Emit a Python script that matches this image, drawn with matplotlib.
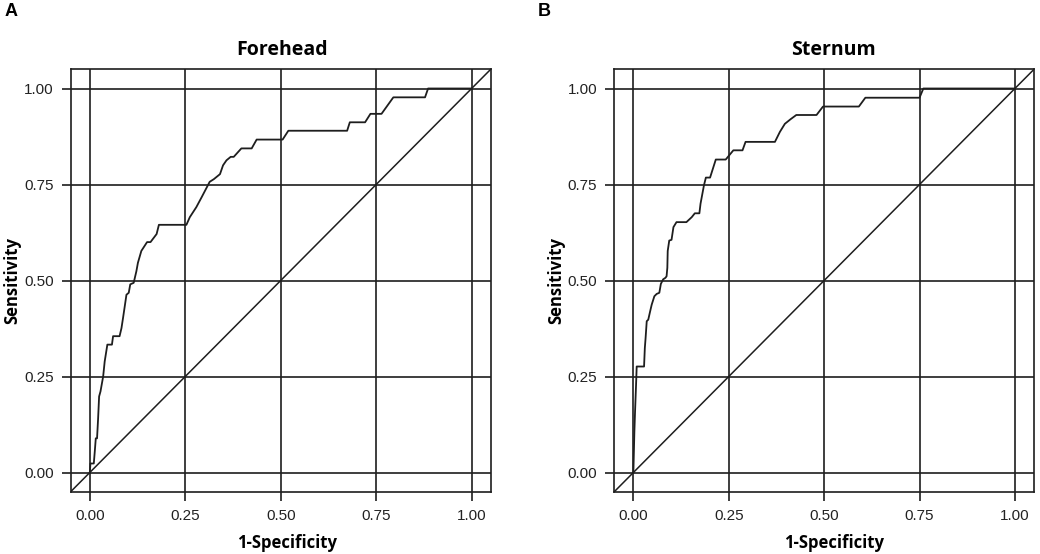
import matplotlib
matplotlib.use("Agg")
import matplotlib.pyplot as plt

# ---- data ----
ticks = [0.0, 0.25, 0.5, 0.75, 1.0]
tick_labels = ["0.00", "0.25", "0.50", "0.75", "1.00"]
panel_letters = ["A", "B"]
titles = ["Forehead", "Sternum"]
xlabel = "1-Specificity"
ylabel = "Sensitivity"

forehead_fpr = [0.0, 0.0017, 0.0105, 0.013, 0.0157, 0.019, 0.0218, 0.0244, 0.028, 0.035,
                0.039, 0.046, 0.058, 0.061, 0.078, 0.083, 0.087, 0.091, 0.096, 0.102,
                0.106, 0.115, 0.118, 0.122, 0.126, 0.135, 0.150, 0.159, 0.175, 0.181,
                0.253, 0.262, 0.279, 0.293, 0.314, 0.325, 0.341, 0.349, 0.358, 0.369,
                0.377, 0.397, 0.424, 0.437, 0.505, 0.520, 0.674, 0.681, 0.721, 0.735,
                0.764, 0.795, 0.878, 0.886, 1.0]
forehead_tpr = [0.0, 0.0235, 0.0235, 0.054, 0.089, 0.089, 0.141, 0.198, 0.211, 0.250,
                0.289, 0.333, 0.333, 0.355, 0.355, 0.376, 0.402, 0.429, 0.463, 0.468,
                0.490, 0.494, 0.507, 0.524, 0.546, 0.577, 0.600, 0.600, 0.621, 0.645,
                0.645, 0.665, 0.691, 0.717, 0.757, 0.764, 0.777, 0.800, 0.813, 0.822,
                0.822, 0.844, 0.844, 0.867, 0.867, 0.890, 0.890, 0.912, 0.912, 0.934,
                0.934, 0.977, 0.977, 1.0, 1.0]

sternum_fpr = [0.0, 0.0026, 0.0044, 0.007, 0.0087, 0.028, 0.030, 0.032, 0.035, 0.039,
               0.044, 0.048, 0.055, 0.061, 0.068, 0.072, 0.078, 0.084, 0.087, 0.089,
               0.090, 0.094, 0.100, 0.105, 0.113, 0.139, 0.153, 0.161, 0.173, 0.176,
               0.185, 0.190, 0.201, 0.216, 0.242, 0.262, 0.286, 0.294, 0.371, 0.384,
               0.397, 0.412, 0.427, 0.480, 0.497, 0.591, 0.608, 0.750, 0.760, 1.0]
sternum_tpr = [0.0, 0.106, 0.159, 0.228, 0.276, 0.276, 0.324, 0.350, 0.394, 0.398,
               0.420, 0.437, 0.459, 0.465, 0.468, 0.491, 0.503, 0.507, 0.511, 0.533,
               0.577, 0.604, 0.606, 0.639, 0.652, 0.652, 0.665, 0.675, 0.675, 0.700,
               0.748, 0.768, 0.768, 0.815, 0.815, 0.839, 0.839, 0.861, 0.861, 0.887,
               0.908, 0.920, 0.931, 0.931, 0.953, 0.953, 0.976, 0.976, 1.0, 1.0]

curves = [(forehead_fpr, forehead_tpr), (sternum_fpr, sternum_tpr)]

# ---- style ----
LINE = "#1e1e1e"
label_font = ["Open Sans", "DejaVu Sans"]
tick_font = ["Liberation Sans", "DejaVu Sans"]

fig = plt.figure(figsize=(10.40, 5.54), dpi=100)
fig.patch.set_facecolor("white")

W, H = 1040, 554
ax_rects = [
    (70.7 / W, (554 - 491.7) / H, 420 / W, 422.4 / H),
    (614.3 / W, (554 - 491.7) / H, 419.7 / W, 422.4 / H),
]
letter_pos = [(5 / W, 1 - 15.5 / H), (538 / W, 1 - 15.5 / H)]
title_x = [0.504, 0.523]
xlabel_x = [0.514, 0.523]

lim = (-0.05, 1.05)
for i, ax_rect in enumerate(ax_rects):
    ax = fig.add_axes(ax_rect)
    ax.set_xlim(lim)
    ax.set_ylim(lim)
    for t in ticks:
        ax.axvline(t, color=LINE, lw=1.2, zorder=1)
        ax.axhline(t, color=LINE, lw=1.2, zorder=1)
    # reference diagonal corner to corner
    ax.plot(lim, lim, color=LINE, lw=1.1, zorder=2)
    fx, fy = curves[i]
    ax.plot(fx, fy, color=LINE, lw=1.3, zorder=3)

    ax.set_xticks(ticks)
    ax.set_yticks(ticks)
    ax.set_xticklabels(tick_labels, family=tick_font, fontsize=11, color="#222222")
    ax.set_yticklabels(tick_labels, family=tick_font, fontsize=11, color="#222222")
    ax.tick_params(direction="out", length=6.3, width=1.2, color=LINE, pad=6)
    for s in ax.spines.values():
        s.set_color(LINE)
        s.set_linewidth(1.2)

    ax.set_title(titles[i], family=label_font, fontweight="bold", fontsize=14, pad=10,
                 x=title_x[i])
    ax.set_xlabel(xlabel, family=label_font, fontweight="bold", fontsize=12)
    ax.set_ylabel(ylabel, family=label_font, fontweight="bold", fontsize=12, labelpad=2)
    ax.xaxis.set_label_coords(xlabel_x[i], -0.100)

    fig.text(letter_pos[i][0], letter_pos[i][1], panel_letters[i], family=tick_font,
             fontweight="bold", fontsize=13, ha="left", va="baseline")

fig.savefig("out.png", dpi=100, facecolor="white")
